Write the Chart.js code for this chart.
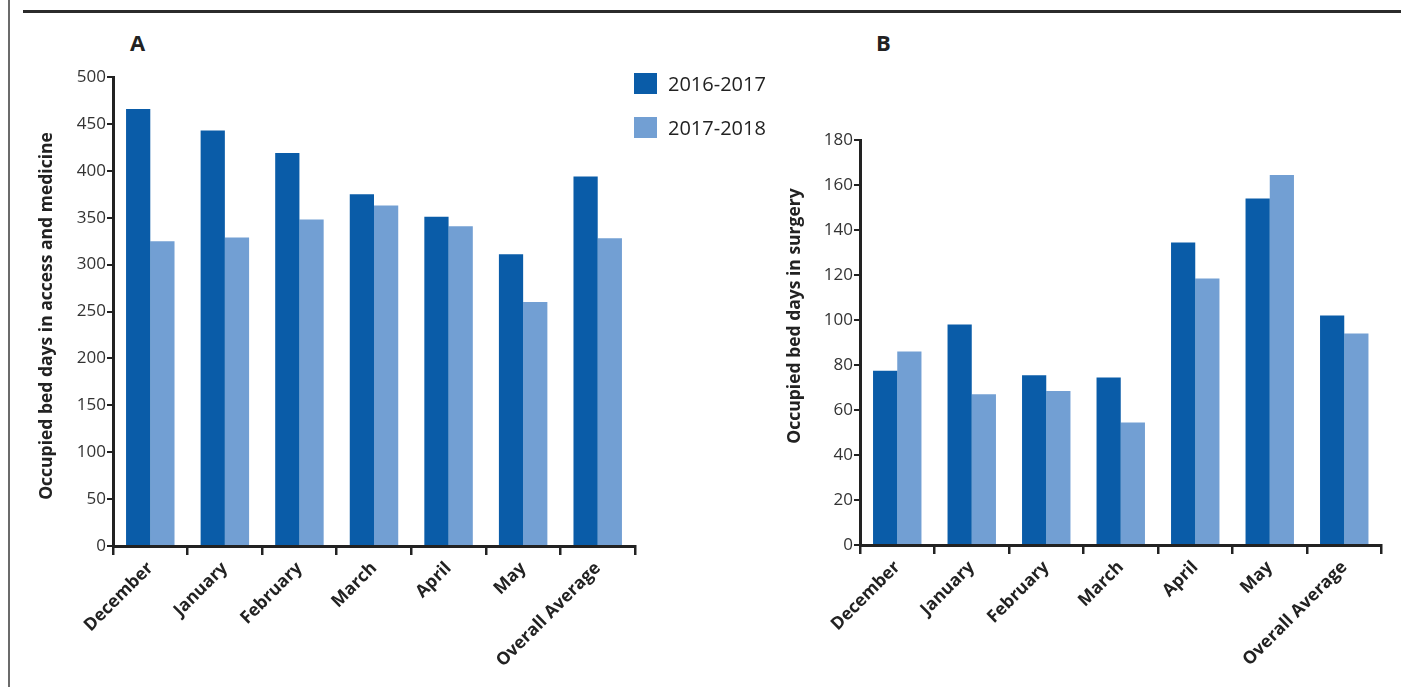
<!DOCTYPE html>
<html>
<head>
<meta charset="utf-8">
<script src="https://cdn.jsdelivr.net/npm/chart.js@4.4.1/dist/chart.umd.min.js"></script>
<style>
  html, body { margin: 0; padding: 0; background: #fff; }
  body { width: 1401px; height: 687px; position: relative; overflow: hidden; font-family: "Open Sans", sans-serif; }
  .frame-left { position: absolute; left: 8px; top: 0; width: 2px; height: 687px; background: #6b6b6b; }
  .frame-top { position: absolute; left: 23px; top: 10px; width: 1378px; height: 2.5px; background: #2b2b2b; }
  .panel-label { position: absolute; font-weight: 700; font-size: 22px; color: #222; line-height: 1; }
  .wrap { position: absolute; top: 0; height: 687px; }
  .legend { position: absolute; left: 634px; top: 73px; }
  .legend .item { position: absolute; left: 0; white-space: nowrap; }
  .legend .sw { position: absolute; left: 0; width: 23px; height: 21px; }
  .legend .tx { position: absolute; left: 34px; font-size: 20px; color: #222; line-height: 1; }
</style>
</head>
<body>
<div class="frame-left"></div>
<div class="frame-top"></div>

<div class="panel-label" style="left:130px; top:31px;">A</div>
<div class="panel-label" style="left:876px; top:31px;">B</div>

<div class="wrap" style="left:0; width:660px;"><canvas id="chartA"></canvas></div>
<div class="wrap" style="left:700px; width:701px;"><canvas id="chartB"></canvas></div>

<div class="legend" id="legend"></div>

<script>
// Categories shared by both panels
const categories = ['December', 'January', 'February', 'March', 'April', 'May', 'Overall Average'];
const seriesNames = ['2016-2017', '2017-2018'];
const seriesColors = ['#0a5ca8', '#729fd3'];

// Panel A: access and medicine
const medicine2016 = [466, 443, 419, 375, 351, 311, 394];
const medicine2018 = [325, 329, 348, 363, 341, 260, 328];
const medicineTicks = { min: 0, max: 500, step: 50 };

// Panel B: surgery
const surgery2016 = [77.5, 98, 75.5, 74.5, 134.5, 154, 102];
const surgery2018 = [86, 67, 68.5, 54.5, 118.5, 164.5, 94];
const surgeryTicks = { min: 0, max: 180, step: 20 };

const axisColor = '#222';
const tickFont = { family: '"Open Sans", sans-serif', size: 17, weight: 400 };
const catFont = { family: '"Open Sans", sans-serif', size: 17.5, weight: 700 };
const titleFont = '700 17.5px "Open Sans", sans-serif';

// Draws the rotated y-axis caption at a fixed centre beside the axis
const yCaption = {
  id: 'yCaption',
  afterDraw(chart, args, o) {
    if (!o || !o.text) return;
    const ctx = chart.ctx;
    ctx.save();
    ctx.translate(o.x, o.y);
    ctx.rotate(-Math.PI / 2);
    ctx.font = titleFont;
    ctx.fillStyle = '#222';
    ctx.textAlign = 'center';
    ctx.textBaseline = 'middle';
    ctx.fillText(o.text, 0, 0);
    ctx.restore();
  }
};

function makeChart(id, opts) {
  const canvas = document.getElementById(id);
  canvas.style.width = opts.width + 'px';
  canvas.style.height = '687px';
  return new Chart(canvas, {
    type: 'bar',
    data: {
      labels: categories,
      datasets: [
        { label: seriesNames[0], data: opts.a, backgroundColor: seriesColors[0], borderWidth: 0 },
        { label: seriesNames[1], data: opts.b, backgroundColor: seriesColors[1], borderWidth: 0 }
      ]
    },
    plugins: [yCaption],
    options: {
      responsive: false,
      animation: false,
      devicePixelRatio: 1,
      layout: { padding: { left: 0, right: opts.padRight, top: opts.padTop, bottom: 0 } },
      plugins: {
        legend: { display: false },
        tooltip: { enabled: false },
        yCaption: { text: opts.title, x: opts.titleX, y: 316 }
      },
      datasets: { bar: { categoryPercentage: 0.65, barPercentage: 1.0 } },
      scales: {
        x: {
          grid: { display: true, drawOnChartArea: false, drawTicks: true, tickLength: 9, color: axisColor, lineWidth: 2.5, offset: true },
          border: { display: true, color: axisColor, width: 3 },
          ticks: { color: '#222', font: catFont, minRotation: 45, maxRotation: 45, padding: 3, autoSkip: false },
          afterFit: s => { s.height = opts.xHeight; }
        },
        y: {
          min: opts.ticks.min,
          max: opts.ticks.max,
          grid: { display: true, drawOnChartArea: false, drawTicks: true, tickLength: 6, color: axisColor, lineWidth: 2 },
          border: { display: true, color: axisColor, width: 3 },
          ticks: { stepSize: opts.ticks.step, color: '#333', font: tickFont, padding: 1 },
          afterFit: s => { s.width = opts.yWidth; }
        }
      }
    }
  });
}

makeChart('chartA', {
  width: 660, a: medicine2016, b: medicine2018, ticks: medicineTicks,
  title: 'Occupied bed days in access and medicine', titleX: 47,
  padRight: 25, padTop: 77, xHeight: 141, yWidth: 113
});

makeChart('chartB', {
  width: 701, a: surgery2016, b: surgery2018, ticks: surgeryTicks,
  title: 'Occupied bed days in surgery', titleX: 95,
  padRight: 19.5, padTop: 140, xHeight: 142, yWidth: 160
});

// Legend for the two seasons
const legend = document.getElementById('legend');
seriesNames.forEach((name, i) => {
  const item = document.createElement('div');
  item.className = 'item';
  item.style.top = (i * 44) + 'px';
  item.innerHTML = '<div class="sw" style="background:' + seriesColors[i] + '"></div>' +
                   '<div class="tx" style="top:1px">' + name + '</div>';
  legend.appendChild(item);
});
</script>
</body>
</html>
